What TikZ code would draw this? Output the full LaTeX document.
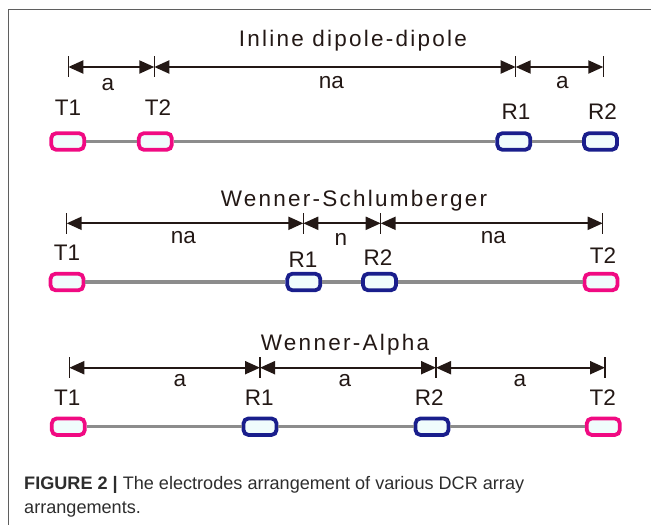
\documentclass[tikz,border=0pt]{standalone}
\usepackage{fontspec}
\setmainfont{Liberation Sans}
\usetikzlibrary{arrows.meta}
\definecolor{ink}{RGB}{35,24,21}
\definecolor{epink}{RGB}{240,10,130}
\definecolor{eblue}{RGB}{25,30,140}
\definecolor{efill}{RGB}{240,252,252}
\definecolor{railgray}{RGB}{140,140,140}
\definecolor{framec}{RGB}{95,95,95}
\definecolor{capc}{RGB}{45,45,45}
\begin{document}
\begin{tikzpicture}[x=1pt,y=-1pt,
  elec/.style={draw, rounded corners=5pt, line width=3.8pt, fill=efill, minimum width=33pt, minimum height=16.5pt, inner sep=0pt},
  tx/.style={elec, draw=epink},
  rx/.style={elec, draw=eblue},
  rail/.style={draw=railgray, line width=3.5pt},
  dim/.style={draw=ink, line width=2.1pt, {Triangle[length=15pt,width=13pt]}-{Triangle[length=15pt,width=13pt]}},
  tickmark/.style={draw=ink, line width=1.4pt},
  lab/.style={text=ink, font=\fontsize{22.5}{26}\selectfont, inner sep=0pt, anchor=base},
  ttl/.style={text=ink, font=\fontsize{22.5}{26}\selectfont\addfontfeature{LetterSpace=10}, inner sep=0pt, anchor=base},
  captext/.style={text=capc, font=\fontsize{18.1}{21}\selectfont, inner sep=0pt, anchor=base west},
]
\useasboundingbox (0,0) rectangle (651,525);
% frame
\draw[framec, line width=1pt] (8,525) -- (8,9) -- (651,9);

%%%%%%%% Section 1: Inline dipole-dipole
\node[ttl] (t1) at (353,46) {Inline dipole-dipole};
\foreach \n/\x in {a/68.3,b/154.3,c/515.7,d/603.3}{
  \coordinate (p1\n) at (\x,67);
  \draw[tickmark] (\x,56) -- (\x,77);
}
\draw[dim] (p1a) -- (p1b);
\draw[dim] (p1b) -- (p1c);
\draw[dim] (p1c) -- (p1d);
\node[lab] (l1a) at (108,90.7) {a};
\node[lab] (l1b) at (331.5,88.3) {na};
\node[lab] (l1c) at (562.3,88.3) {a};
\node[lab] (n1T1) at (68,115) {T1};
\node[lab] (n1T2) at (158,115) {T2};
\node[lab] (n1R1) at (516,119.3) {R1};
\node[lab] (n1R2) at (602.5,119.3) {R2};
\node[tx] (e1T1) at (67.7,141.5) {};
\node[tx] (e1T2) at (155.3,141.5) {};
\node[rx] (e1R1) at (513.8,141.5) {};
\node[rx] (e1R2) at (600.5,141.5) {};
\draw[rail] (e1T1.east) -- (e1T2.west);
\draw[rail] (e1T2.east) -- (e1R1.west);
\draw[rail] (e1R1.east) -- (e1R2.west);

%%%%%%%% Section 2: Wenner-Schlumberger
\node[ttl] (t2) at (354,206.7) {Wenner-Schlumberger};
\foreach \n/\x in {a/66.7,b/303.3,c/380.7,d/602.7}{
  \coordinate (p2\n) at (\x,223.3);
  \draw[tickmark] (\x,213) -- (\x,234);
}
\draw[dim] (p2a) -- (p2b);
\draw[dim] (p2b) -- (p2c);
\draw[dim] (p2c) -- (p2d);
\node[lab] (l2a) at (183.3,243.3) {na};
\node[lab] (l2b) at (341,245) {n};
\node[lab] (l2c) at (493.3,243.3) {na};
\node[lab] (n2T1) at (67,260) {T1};
\node[lab] (n2R1) at (303,267.3) {R1};
\node[lab] (n2R2) at (378,265) {R2};
\node[lab] (n2T2) at (603,263.3) {T2};
\node[tx] (e2T1) at (67,282) {};
\node[rx] (e2R1) at (303.8,282) {};
\node[rx] (e2R2) at (379.5,282) {};
\node[tx] (e2T2) at (601,282) {};
\draw[rail] (e2T1.east) -- (e2R1.west);
\draw[rail] (e2R1.east) -- (e2R2.west);
\draw[rail] (e2R2.east) -- (e2T2.west);

%%%%%%%% Section 3: Wenner-Alpha
\node[ttl] (t3) at (345,350) {Wenner-Alpha};
\foreach \n/\x in {a/69.3,b/260,c/436,d/605}{
  \coordinate (p3\n) at (\x,367.7);
  \draw[tickmark] (\x,357) -- (\x,378);
}
\draw[dim] (p3a) -- (p3b);
\draw[dim] (p3b) -- (p3c);
\draw[dim] (p3c) -- (p3d);
\node[lab] (l3a) at (180,386.7) {a};
\node[lab] (l3b) at (345,386.7) {a};
\node[lab] (l3c) at (520,386.7) {a};
\node[lab] (n3T1) at (67.3,405) {T1};
\node[lab] (n3R1) at (259.3,405) {R1};
\node[lab] (n3R2) at (429.3,405) {R2};
\node[lab] (n3T2) at (602.7,405) {T2};
\node[tx] (e3T1) at (68.3,426.7) {};
\node[rx] (e3R1) at (260,426.7) {};
\node[rx] (e3R2) at (432,426.7) {};
\node[tx] (e3T2) at (603.3,426.7) {};
\draw[rail] (e3T1.east) -- (e3R1.west);
\draw[rail] (e3R1.east) -- (e3R2.west);
\draw[rail] (e3R2.east) -- (e3T2.west);

%%%%%%%% Caption
\node[captext] (cap1) at (24,489) {\textbf{FIGURE 2 |} The electrodes arrangement of various DCR array};
\node[captext] (cap2) at (24,513) {arrangements.};
\end{tikzpicture}
\end{document}
